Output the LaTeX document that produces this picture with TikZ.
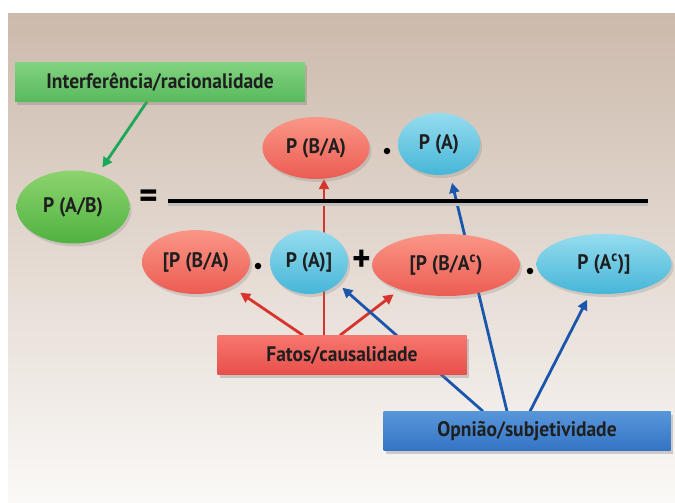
\documentclass[tikz,border=0pt]{standalone}
\usepackage{fontspec}
\setmainfont{PT Sans}[FakeStretch=0.93]
\usetikzlibrary{shapes.geometric,arrows.meta,shadows}
\pgfdeclarelayer{back}
\pgfsetlayers{back,main}

\definecolor{bgtop}{RGB}{204,186,172}
\definecolor{bgmid}{RGB}{232,223,215}
\definecolor{bgbot}{RGB}{251,249,247}
\definecolor{redlt}{RGB}{250,150,135}
\definecolor{reddk}{RGB}{236,92,82}
\definecolor{bluelt}{RGB}{150,220,238}
\definecolor{bluedk}{RGB}{70,182,216}
\definecolor{greenlt}{RGB}{140,212,110}
\definecolor{greendk}{RGB}{80,178,64}
\definecolor{gboxlt}{RGB}{130,210,128}
\definecolor{gboxdk}{RGB}{88,186,92}
\definecolor{rboxlt}{RGB}{246,118,110}
\definecolor{rboxdk}{RGB}{232,80,76}
\definecolor{bboxlt}{RGB}{88,150,218}
\definecolor{bboxdk}{RGB}{52,116,196}
\definecolor{arrred}{RGB}{214,52,44}
\definecolor{arrblue}{RGB}{26,86,172}
\definecolor{arrgreen}{RGB}{28,168,88}

\begin{document}
\begin{tikzpicture}[x=1pt, y=-1pt,
  lbl/.style={font=\fontsize{21}{23}\selectfont\bfseries, text=black!88},
  oval/.style={ellipse, inner sep=0pt, lbl, drop shadow={opacity=0.25, shadow xshift=2pt, shadow yshift=-3pt}},
  redoval/.style={oval, top color=redlt, bottom color=reddk},
  blueoval/.style={oval, top color=bluelt, bottom color=bluedk},
  greenoval/.style={oval, top color=greenlt, bottom color=greendk},
  labelbox/.style={rectangle, inner sep=0pt, minimum height=39pt, lbl, drop shadow={opacity=0.35, shadow xshift=2pt, shadow yshift=-3pt}},
  bullet/.style={circle, fill=black, inner sep=0pt, minimum size=6.5pt},
  sign/.style={font=\fontsize{38}{38}\selectfont\bfseries, inner sep=0pt},
  arr/.style={line width=2.8pt, -{Triangle[length=10pt,width=10pt]}},
  redarr/.style={arr, draw=arrred, arrred},
  bluearr/.style={arr, draw=arrblue, arrblue},
  greenarr/.style={arr, draw=arrgreen, arrgreen}]
\useasboundingbox (0,0) rectangle (675,503);
\begin{pgfonlayer}{back}
\fill[white] (0,0) rectangle (675,503);
\shade[top color=bgtop, middle color=bgmid, bottom color=bgbot] (8,14) rectangle (675,503);
\end{pgfonlayer}

\node[labelbox, top color=gboxlt, bottom color=gboxdk, minimum width=290pt] (infer) at (160,82) {Interferência/racionalidade};
\node[greenoval, minimum width=113pt, minimum height=73pt] (pab) at (73,207) {P (A/B)};
\node[sign] (eq) at (149,199) {=};
\draw[line width=3.2pt, black!25] (168,204) -- (648,204);
\draw[line width=3.2pt] (168,201) -- (648,201);

\node[redoval, minimum width=107pt, minimum height=62pt] (pba) at (316,148) {P (B/A)};
\node[bullet] (b1) at (387,151) {};
\node[blueoval, minimum width=82pt, minimum height=62pt] (pa) at (439,144) {P (A)};

\node[redoval, minimum width=108pt, minimum height=64pt] (pbaI) at (196,262) {[P (B/A)};
\node[bullet] (b2) at (258,266) {};
\node[blueoval, minimum width=78pt, minimum height=64pt] (paI) at (309,262) {P (A)]};
\node[sign] (plus) at (362,261) {+};
\node[redoval, minimum width=148pt, minimum height=62pt] (pbac) at (446,265) {[P (B/A\textsuperscript{c})};
\node[bullet] (b3) at (530,271) {};
\node[blueoval, minimum width=135pt, minimum height=60pt] (pac) at (604,264) {P (A\textsuperscript{c})]};

\node[labelbox, top color=rboxlt, bottom color=rboxdk, minimum width=249pt] (fatos) at (342,355) {Fatos/causalidade};
\node[labelbox, top color=bboxlt, bottom color=bboxdk, minimum width=287pt] (opin) at (527,431) {Opnião/subjetividade};

\begin{pgfonlayer}{back}
\draw[greenarr, shorten >=8pt] ([xshift=-13pt]infer.south) -- (pab.53);
\draw[redarr, shorten >=11pt] ([xshift=-39pt]fatos.north) -- (pbaI.-35);
\draw[redarr] ([xshift=-18pt]fatos.north) -- ([xshift=8pt]pba.south);
\draw[redarr, shorten >=8pt] ([xshift=-2pt]fatos.north) -- (pbac.-152);
\draw[bluearr, shorten >=6pt] ([xshift=-44pt]opin.north) -- (paI.-37);
\draw[bluearr, shorten >=9pt] ([xshift=-20pt]opin.north) -- (pa.-70);
\draw[bluearr, shorten >=7pt] ([xshift=3pt]opin.north) -- (pac.-115);
\end{pgfonlayer}
\end{tikzpicture}
\end{document}
